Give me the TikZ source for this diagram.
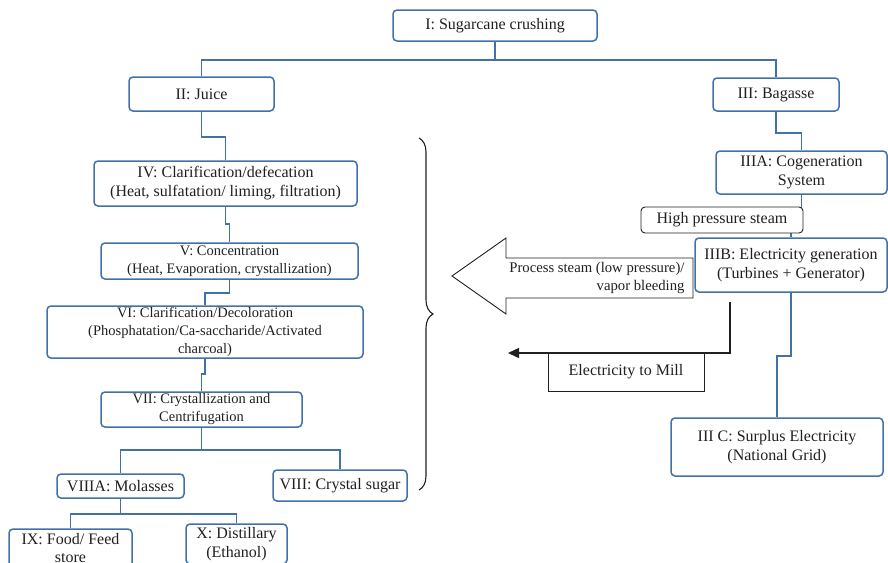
\documentclass[tikz,border=0pt]{standalone}
\usepackage{fontspec}
\setmainfont{Liberation Serif}
\usetikzlibrary{arrows.meta,decorations.pathreplacing}
\definecolor{procblue}{RGB}{65,113,171}
\definecolor{inkgray}{RGB}{35,31,32}

\begin{document}
\begin{tikzpicture}[x=1pt,y=-1pt,
  procbox/.style={draw=procblue,line width=1.5pt,rounded corners=4pt,fill=white,inner sep=0pt,
    align=center,text=inkgray,font=\fontsize{16}{19}\selectfont},
  smalltext/.style={font=\fontsize{14.5}{18}\selectfont},
  link/.style={draw=procblue,line width=1.6pt},
  notebox/.style={draw=inkgray,line width=0.9pt,inner sep=0pt,fill=white,align=center,
    text=inkgray,font=\fontsize{16}{19}\selectfont}]
\useasboundingbox (0,0) rectangle (888,562);
\clip (0,0) rectangle (888,562);

\node[procbox,minimum width=204pt,minimum height=31pt] (crush) at (495,25.5) {I: Sugarcane crushing};
\node[procbox,minimum width=145pt,minimum height=34pt] (juice) at (201.5,94) {II: Juice};
\node[procbox,minimum width=126pt,minimum height=33pt] (bagasse) at (776,94.5) {III: Bagasse};
\node[procbox,minimum width=263pt,minimum height=45pt] (clarif) at (225.5,183.5)
  {IV: Clarification/defecation\\(Heat, sulfatation/ liming, filtration)};
\node[procbox,minimum width=171pt,minimum height=43pt] (cogen) at (801.5,172.5) {IIIA: Cogeneration\\System};
\node[procbox,smalltext,minimum width=257pt,minimum height=36pt] (conc) at (229.5,261)
  {V: Concentration\\(Heat, Evaporation, crystallization)};
\node[procbox,smalltext,minimum width=316pt,minimum height=52pt] (decol) at (205,332)
  {VI: Clarification/Decoloration\\(Phosphatation/Ca-saccharide/Activated\\charcoal)};
\node[procbox,smalltext,minimum width=201pt,minimum height=35pt] (cryst) at (201.5,409.5)
  {VII: Crystallization and\\Centrifugation};
\node[procbox,minimum width=127pt,minimum height=24pt] (molasses) at (120.5,486) {VIIIA: Molasses};
\node[procbox,minimum width=134pt,minimum height=31pt] (sugar) at (340,485.5) {VIII: Crystal sugar};
\node[procbox,font=\fontsize{16}{18}\selectfont,minimum width=123pt,minimum height=38pt] (feed) at (70.5,548)
  {IX: Food/ Feed\\store};
\node[procbox,minimum width=101pt,minimum height=40pt] (distil) at (236.5,544) {X: Distillary\\(Ethanol)};
\node[procbox,minimum width=192pt,minimum height=54pt] (power) at (791,265)
  {IIIB: Electricity generation\\(Turbines + Generator)};
\node[procbox,minimum width=212pt,minimum height=58pt] (grid) at (777,447)
  {III C: Surplus Electricity\\(National Grid)};

\draw[link] (crush.south) -- ++(0,18) -| (juice.north);
\draw[link] (crush.south) -- ++(0,18) -| (bagasse.north);
\draw[link] (juice.south) -- ++(0,25) -| (clarif.north);
\draw[link] (bagasse.south) -- ++(0,21) -| (cogen.north);
\draw[link] (clarif.south) -- ++(0,17) -| (conc.north);
\draw[link] (conc.south) -- ++(0,13) -| (decol.north);
\draw[link] (decol.south) -- ++(0,15) -| (cryst.north);
\draw[link] (cryst.south) -- ++(0,22) -| (molasses.north);
\draw[link] (cryst.south) -- ++(0,22) -| (sugar.north);
\draw[link] (molasses.south) -- ++(0,15) -| (feed.north);
\draw[link] (molasses.south) -- ++(0,15) -| (distil.north);
\draw[link] (cogen.south) -- ++(0,20) -| (power.north);
\draw[link] (power.south) -- ++(0,63) -| (grid.north);

\node[notebox,rounded corners=4pt,minimum width=162pt,minimum height=26pt] (hpsteam) at (722,220) {High pressure steam};

\draw[inkgray,line width=0.9pt,fill=white] (693,258) -- (506,258) -- (506,238) -- (452,276)
  -- (506,314) -- (506,298) -- (693,298) -- cycle;
\node[anchor=east,align=right,text=inkgray,font=\fontsize{14.7}{18}\selectfont] (steamnote) at (688,278)
  {Process steam (low pressure)/\\vapor bleeding};

\node[notebox,minimum width=156pt,minimum height=38pt] (mill) at (626,372) {Electricity to Mill};
\coordinate (elecstart) at (730,302);
\coordinate (elecend) at (508,353);
\draw[inkgray,line width=1.5pt,-{Triangle[length=11pt,width=10pt]}] (elecstart) |- (elecend);

\coordinate (bracetop) at (419,138);
\coordinate (bracebot) at (419,490);
\draw[inkgray,line width=1.1pt,decorate,decoration={brace,amplitude=14pt}] (bracetop) -- (bracebot);
\end{tikzpicture}
\end{document}
